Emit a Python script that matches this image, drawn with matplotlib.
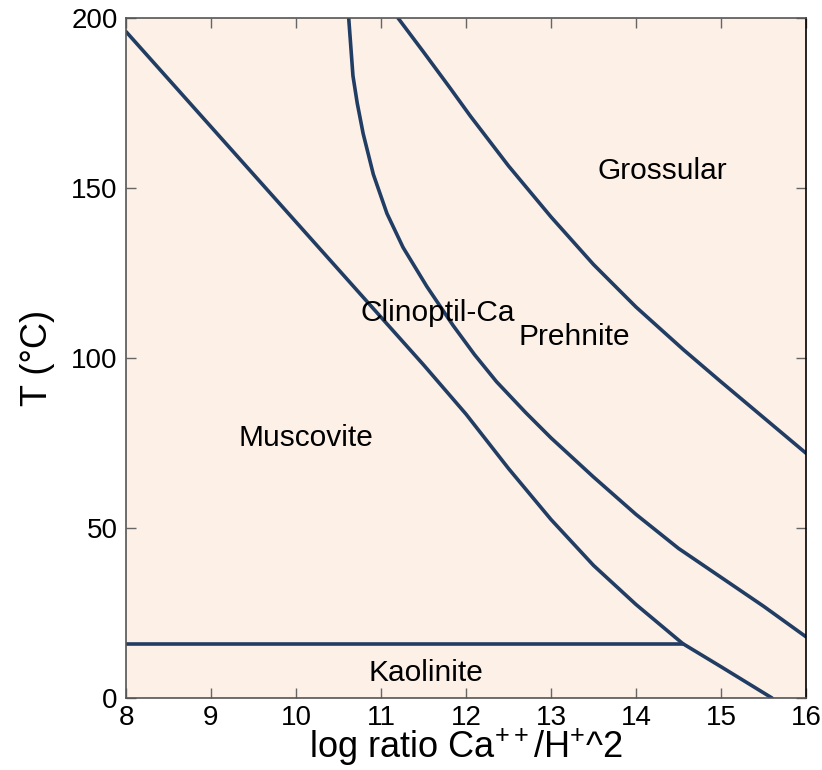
import matplotlib
matplotlib.use("Agg")
import matplotlib.pyplot as plt

plt.rcParams["font.family"] = ["Liberation Sans", "DejaVu Sans"]
plt.rcParams["mathtext.fontset"] = "custom"
plt.rcParams["mathtext.rm"] = "Liberation Sans"
plt.rcParams["mathtext.it"] = "Liberation Sans:italic"

# Stability field boundaries: log ratio Ca++/H+^2 vs temperature (°C)
musc_clino_x = [8.0, 8.5, 9.0, 9.5, 10.0, 10.5, 11.0, 11.5, 12.0, 12.5, 13.0,
                13.5, 14.0, 14.55, 15.0, 15.3, 15.6]
musc_clino_t = [196, 182, 168, 154, 140, 126, 112, 98, 83.5, 67.5, 52.5,
                39, 27.5, 16, 9.2, 4.6, 0]

clino_preh_x = [10.62, 10.67, 10.72, 10.79, 10.91, 11.07, 11.26, 11.54, 11.85,
                12.1, 12.36, 12.7, 13.0, 13.5, 14.0, 14.5, 15.0, 15.5, 16.0]
clino_preh_t = [200, 183, 175, 166, 154, 142.5, 132.5, 121, 109.5,
                101, 93, 84, 76.5, 65, 54, 44, 35.5, 27, 18]

preh_gross_x = [11.2, 11.5, 11.81, 12.05, 12.5, 13.0, 13.5, 14.0, 14.56, 15.0, 15.5, 16.0]
preh_gross_t = [200, 190, 179.5, 171.2, 156.5, 141.5, 127.5, 115, 102.4, 93, 82.5, 72]

kaol_x = [8.0, 14.55]
kaol_t = [16, 16]

field_names = ["Grossular", "Clinoptil-Ca", "Prehnite", "Muscovite", "Kaolinite"]
field_x = [14.31, 11.67, 13.28, 10.12, 11.53]
field_t = [154.9, 113.1, 106.3, 76.6, 7.4]

x_ticks = [8, 9, 10, 11, 12, 13, 14, 15, 16]
y_ticks = [0, 50, 100, 150, 200]

line_color = "#213d63"
bg_color = "#fcf0e7"

fig = plt.figure(figsize=(8.22, 7.70), dpi=100)
ax = fig.add_axes([126 / 822, 1 - 698 / 770, 680 / 822, 680 / 770])
ax.set_facecolor(bg_color)

for xs, ts in [(musc_clino_x, musc_clino_t), (clino_preh_x, clino_preh_t),
               (preh_gross_x, preh_gross_t), (kaol_x, kaol_t)]:
    ax.plot(xs, ts, color=line_color, lw=2.6, solid_capstyle="round",
            solid_joinstyle="round")

for name, x, t in zip(field_names, field_x, field_t):
    ax.text(x, t, name, fontsize=21.5, ha="center", va="center", color="black")

ax.set_xlim(8, 16)
ax.set_ylim(0, 200)
ax.set_xticks(x_ticks)
ax.set_yticks(y_ticks)
ax.tick_params(direction="in", length=7, width=1, color="#666666",
               labelsize=20, top=True, right=True)
ax.tick_params(axis="x", pad=5)
ax.tick_params(axis="y", pad=6)
for side, sp in ax.spines.items():
    sp.set_color("#555555" if side != "right" else "black")
    sp.set_linewidth(1.2)

ax.set_xlabel("log ratio Ca$^{++}$/H$^{+}$^2", fontsize=26, labelpad=-3)
ax.set_ylabel("T (°C)", fontsize=26, labelpad=12)

fig.savefig("out.png", dpi=100)
